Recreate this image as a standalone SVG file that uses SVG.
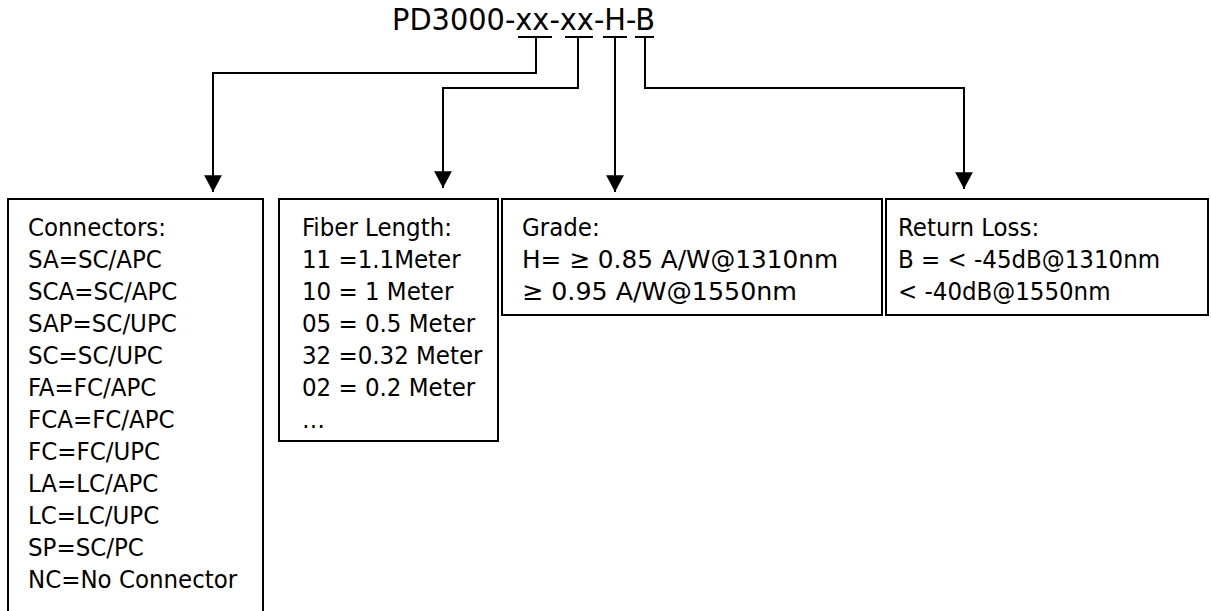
<svg xmlns="http://www.w3.org/2000/svg" width="1211" height="611" viewBox="0 0 1211 611">
<style>
.t{font-family:"DejaVu Sans","Liberation Sans",sans-serif;font-stretch:condensed;font-size:25.5px;fill:#000}
.title{font-size:30.5px}
.box{fill:#fff;stroke:#000;stroke-width:2}
.c{fill:none;stroke:#000;stroke-width:2}
</style>
<defs>
<marker id="ah" markerUnits="userSpaceOnUse" markerWidth="20" markerHeight="20" viewBox="-16 -9 17 18" refX="0" refY="0" orient="auto" overflow="visible">
<path d="M0,0 L-15,-8 L-15,8 Z" fill="#000"/>
</marker>
</defs>
<rect width="1211" height="611" fill="#fff"/>
<g id="title"><text class="t title" x="392" y="30" textLength="263" lengthAdjust="spacingAndGlyphs">PD3000-xx-xx-H-B</text></g>
<g id="connectors">
<path class="c" d="M518,37 H552 M565,37 H593 M603,37 H627 M635,37 H654"/>
<path class="c" d="M536,37 V73 H213 V192" marker-end="url(#ah)"/>
<path class="c" d="M578,37 V88 H443 V188" marker-end="url(#ah)"/>
<path class="c" d="M615,37 V192" marker-end="url(#ah)"/>
<path class="c" d="M645,37 V88 H964 V189" marker-end="url(#ah)"/>
</g>
<g id="connectors-box">
<rect class="box" x="8" y="199" width="255" height="440"/>
<text class="t" x="28"><tspan x="28" y="236">Connectors:</tspan><tspan x="28" y="268">SA=SC/APC</tspan><tspan x="28" y="300">SCA=SC/APC</tspan><tspan x="28" y="332">SAP=SC/UPC</tspan><tspan x="28" y="364">SC=SC/UPC</tspan><tspan x="28" y="396">FA=FC/APC</tspan><tspan x="28" y="428">FCA=FC/APC</tspan><tspan x="28" y="460">FC=FC/UPC</tspan><tspan x="28" y="492">LA=LC/APC</tspan><tspan x="28" y="524">LC=LC/UPC</tspan><tspan x="28" y="556">SP=SC/PC</tspan><tspan x="28" y="588">NC=No Connector</tspan></text>
</g>
<g id="fiber-length-box">
<rect class="box" x="279" y="199" width="219" height="242"/>
<text class="t"><tspan x="302" y="236">Fiber Length:</tspan><tspan x="302" y="268">11 =1.1Meter</tspan><tspan x="302" y="300">10 = 1 Meter</tspan><tspan x="302" y="332">05 = 0.5 Meter</tspan><tspan x="302" y="364">32 =0.32 Meter</tspan><tspan x="302" y="396">02 = 0.2 Meter</tspan><tspan x="302" y="428">…</tspan></text>
</g>
<g id="grade-box">
<rect class="box" x="502" y="199" width="380" height="116"/>
<text class="t" x="522" y="236">Grade:</text>
<text class="t" x="522" y="268" textLength="316" lengthAdjust="spacingAndGlyphs">H= ≥ 0.85 A/W@1310nm</text>
<text class="t" x="522" y="300" textLength="275" lengthAdjust="spacingAndGlyphs">≥ 0.95 A/W@1550nm</text>
</g>
<g id="return-loss-box">
<rect class="box" x="886" y="199" width="322" height="116"/>
<text class="t"><tspan x="898" y="236">Return Loss:</tspan><tspan x="898" y="268">B = &lt; -45dB@1310nm</tspan><tspan x="898" y="300">&lt; -40dB@1550nm</tspan></text>
</g>
</svg>
